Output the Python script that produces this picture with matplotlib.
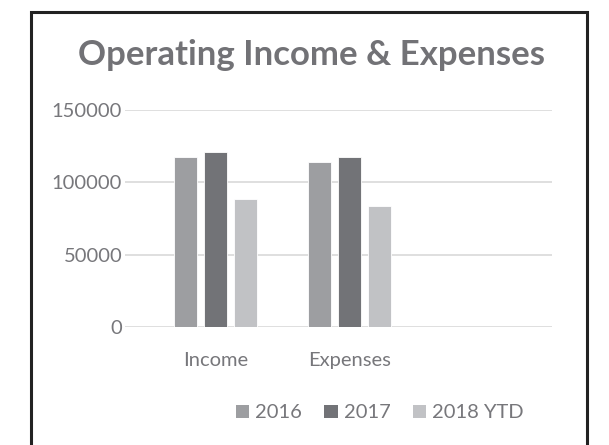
import matplotlib
matplotlib.use("Agg")
import matplotlib.pyplot as plt
from matplotlib.patches import Rectangle, Patch
import numpy as np

categories = ["Income", "Expenses"]
series_names = ["2016", "2017", "2018 YTD"]
values_2016 = [117500, 114300]
values_2017 = [121000, 117800]
values_2018 = [88800, 83700]
yticks = [0, 50000, 100000, 150000]

colors = ["#9d9ea1", "#727377", "#c1c2c5"]
text_color = "#77777b"
title_color = "#727276"
FONT = "Lato"

W, H = 609, 445
fig = plt.figure(figsize=(W / 100, H / 100), dpi=100)
fig.patch.set_facecolor("white")

# outer border
fig.patches.append(Rectangle((31 / W, -0.05), (587 - 31) / W, 1.05 - 12.5 / H,
                             transform=fig.transFigure, fill=False,
                             edgecolor="#222222", linewidth=2.2, zorder=10))

ax = fig.add_axes([125 / W, 1 - 327 / H, (552 - 125) / W, (327 - 110) / H])

x = np.arange(len(categories))
off = 0.2225
bw = 0.172
for i, (vals, c, name) in enumerate(zip([values_2016, values_2017, values_2018], colors, series_names)):
    ax.bar(x + (i - 1) * off, vals, width=bw, color=c, edgecolor="white",
           linewidth=0.6, zorder=3, label=name)

ax.set_ylim(0, 150000)
ax.set_xlim(-0.675, 2.511)
ax.set_yticks(yticks)
ax.set_yticklabels([str(v) for v in yticks], family=FONT, fontsize=14.5, color=text_color)
ax.set_xticks(x)
ax.set_xticklabels(categories, family=FONT, fontsize=14.5, color=text_color)
ax.tick_params(axis="both", length=0)
ax.tick_params(axis="y", pad=2)
ax.tick_params(axis="x", pad=18)
ax.grid(axis="y", color="#d9d9d9", linewidth=1.2, zorder=0)
for s in ax.spines.values():
    s.set_visible(False)
ax.set_facecolor("none")

fig.text(311 / W, 1 - 55 / H, "Operating Income & Expenses", ha="center", va="center",
         family=FONT, fontweight="bold", fontsize=25, color=title_color)

handles = [Patch(facecolor=c, edgecolor="none") for c in colors]
leg = fig.legend(handles, series_names, loc="center", bbox_to_anchor=(380 / W, 1 - 413 / H),
                 ncol=3, frameon=False, prop={"family": FONT, "size": 14.5},
                 handlelength=0.67, handleheight=0.63, handletextpad=0.3,
                 columnspacing=1.1, borderpad=0, borderaxespad=0)
for t in leg.get_texts():
    t.set_color(text_color)

fig.savefig("out.png", dpi=100, facecolor="white")
